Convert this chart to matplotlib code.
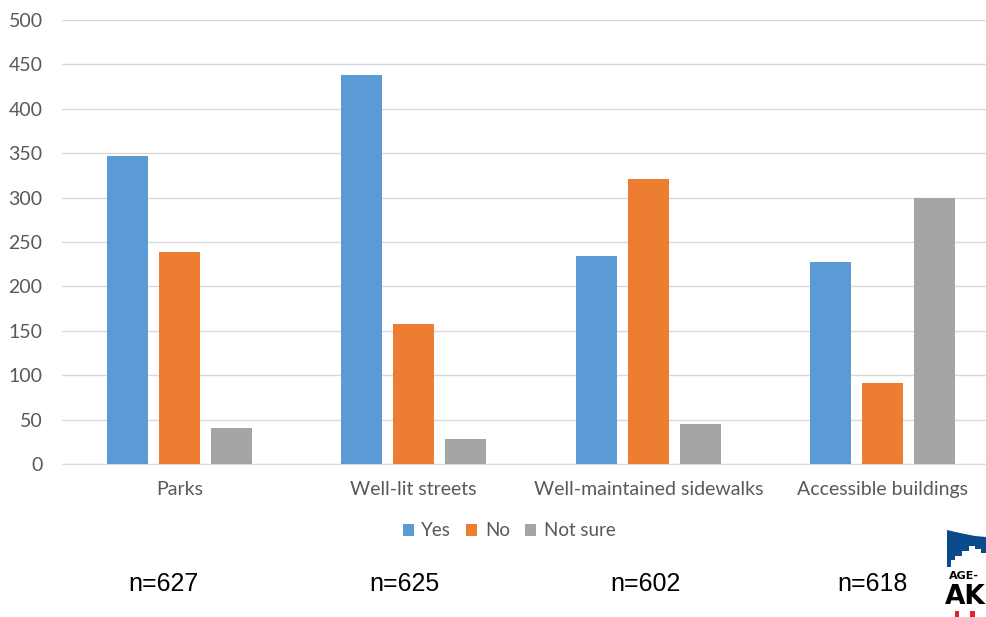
import numpy as np
import matplotlib.pyplot as plt
from matplotlib.patches import Polygon, Rectangle

categories = ['Parks', 'Well-lit streets', 'Well-maintained sidewalks', 'Accessible buildings']
yes = [347, 438, 234, 227]
no = [239, 158, 321, 91]
not_sure = [40, 28, 45, 299]
n_labels = ['n=627', 'n=625', 'n=602', 'n=618']

W, H = 986, 617
fig = plt.figure(figsize=(W / 100, H / 100), dpi=100)

# axes in pixel coords (right edge runs past the image, like the cropped original)
left, right, bottom, top = 62, 1000, 464, 20
ax = fig.add_axes([left / W, 1 - bottom / H, (right - left) / W, (bottom - top) / H])

x = np.arange(len(categories))
bw = 0.175
step = 0.222
ax.bar(x - step, yes, bw, color='#5b9bd5', label='Yes', zorder=3)
ax.bar(x, no, bw, color='#ed7d31', label='No', zorder=3)
ax.bar(x + step, not_sure, bw, color='#a5a5a5', label='Not sure', zorder=3)

ax.set_xlim(-0.5, len(categories) - 0.5)
ax.set_ylim(0, 500)
ax.set_yticks(np.arange(0, 501, 50))
ax.grid(axis='y', color='#d9d9d9', linewidth=1, zorder=0)
for s in ['top', 'right', 'left']:
    ax.spines[s].set_visible(False)
ax.spines['bottom'].set_color('#d9d9d9')
ax.tick_params(length=0)
ax.tick_params(axis='y', pad=14)
ax.tick_params(axis='x', pad=12)
ax.set_xticks(x)
ax.set_xticklabels(categories)
for lab in ax.get_xticklabels() + ax.get_yticklabels():
    lab.set_fontfamily('Lato')
    lab.set_fontsize(14)
    lab.set_color('#595959')

leg = ax.legend(loc='center', bbox_to_anchor=(509 / W, 1 - 531 / H), bbox_transform=fig.transFigure,
                ncol=3, frameon=False, handlelength=0.6, handleheight=0.6, handletextpad=0.4,
                columnspacing=0.8, prop={'family': 'Lato', 'size': 13.5})
for t in leg.get_texts():
    t.set_color('#595959')

# n= labels under each group
n_x = [163, 404, 646, 873]
for xp, s in zip(n_x, n_labels):
    fig.text(xp / W, 1 - 584 / H, s, ha='center', va='center',
             fontfamily='Liberation Sans', fontsize=18, color='black')

# partial logo at bottom right
def px(pts):
    return [(a / W, 1 - b / H) for a, b in pts]

sky = [(947, 530), (960, 533), (975, 536), (986, 537), (986, 553), (981, 553), (981, 549),
       (975, 549), (975, 546), (969, 546), (969, 551), (962, 551), (962, 556), (955, 556),
       (955, 560), (951, 560), (951, 567), (947, 567)]
fig.patches.append(Polygon(px(sky), closed=True, transform=fig.transFigure,
                           facecolor='#0b4a8b', edgecolor='none'))
fig.text(949 / W, 1 - 576 / H, 'AGE-', fontfamily='DejaVu Sans', fontweight='bold',
         fontsize=8, color='black', va='center', ha='left')
fig.text(945 / W, 1 - 597 / H, 'AK', fontfamily='DejaVu Sans', fontweight='bold',
         fontsize=19, color='black', va='center', ha='left')
fig.patches.append(Rectangle((955 / W, 1 - 617 / H), 4 / W, 6 / H, transform=fig.transFigure,
                             facecolor='#e0202a', edgecolor='none'))
fig.patches.append(Rectangle((970 / W, 1 - 617 / H), 5 / W, 6 / H, transform=fig.transFigure,
                             facecolor='#e0202a', edgecolor='none'))

fig.savefig('out.png', dpi=100)
